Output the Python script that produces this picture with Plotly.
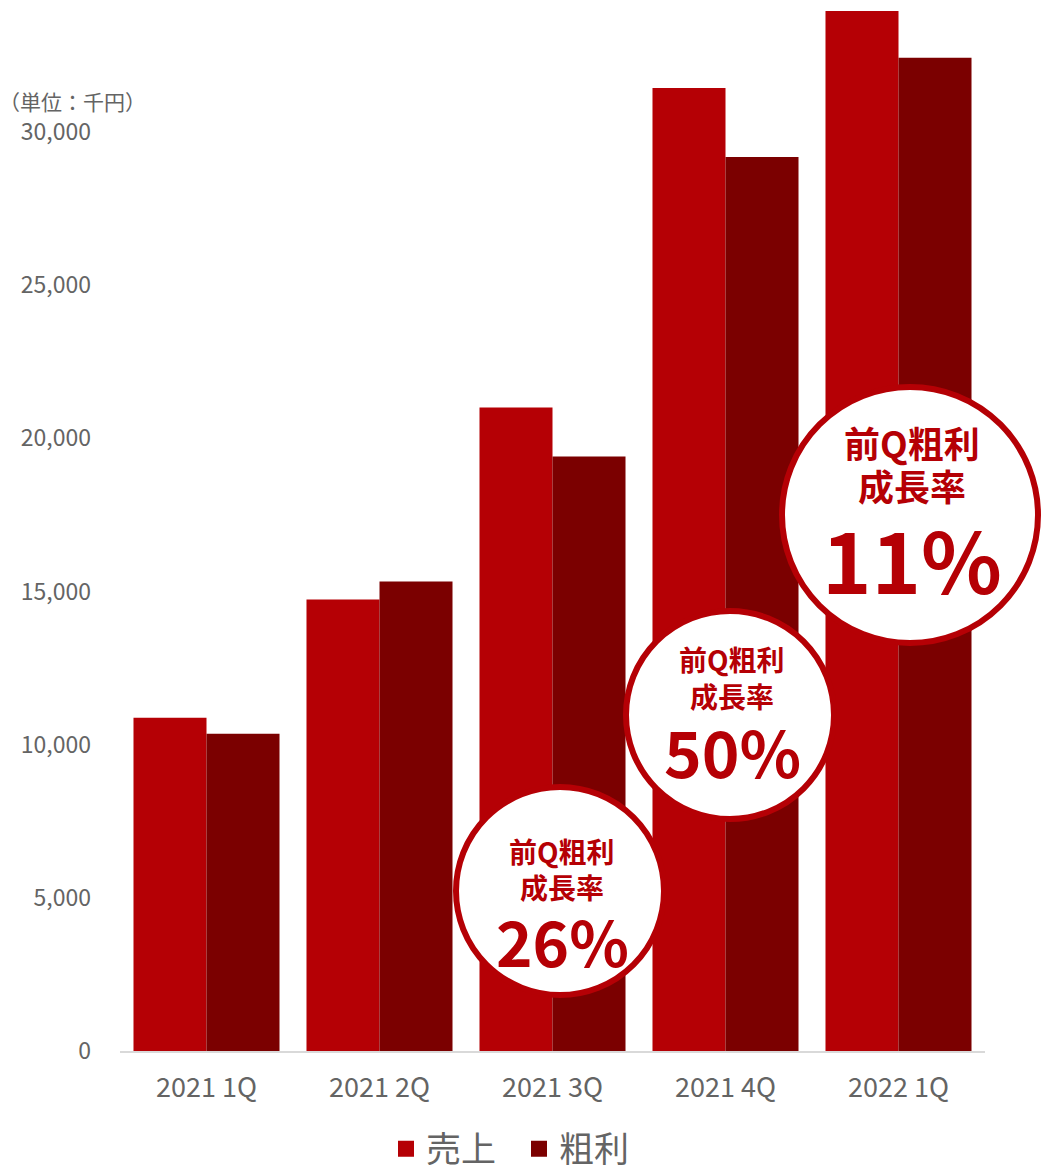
import plotly.graph_objects as go

# Quarterly figures (thousand yen)
quarters = ["2021 1Q", "2021 2Q", "2021 3Q", "2021 4Q", "2022 1Q"]
sales = [10880, 14740, 21010, 31440, 33950]
gross_profit = [10360, 15330, 19410, 29180, 32420]
y_ticks = [0, 5000, 10000, 15000, 20000, 25000, 30000]
series_names = ["売上", "粗利"]

SALES_COLOR = "#B50005"
GP_COLOR = "#7B0000"
TEXT_GRAY = "#646464"
FONT = "Noto Sans CJK JP"

W, H = 1041, 1166
M_L, M_R, M_T, M_B = 120, 56, 11, 115
PW, PH = W - M_L - M_R, H - M_T - M_B

fig = go.Figure()
for name, values, color in [(series_names[0], sales, SALES_COLOR),
                            (series_names[1], gross_profit, GP_COLOR)]:
    fig.add_trace(go.Bar(name=name, x=quarters, y=values, marker_color=color,
                         marker_line_width=0, showlegend=False))
    # legend-only entry with a larger square swatch
    fig.add_trace(go.Scatter(name=name, x=[None], y=[None], mode="markers",
                             marker=dict(symbol="square", size=19, color=color),
                             showlegend=True, hoverinfo="skip"))


def px_to_paper(px, py):
    return (px - M_L) / PW, (H - M_B - py) / PH


# Growth-rate badges: (label, centre x px, centre y px, radius px, head size, pct size, line offsets)
badges = [
    ("26%", 560, 891, 104, 28, 62, (-40, -4, 49)),
    ("50%", 730, 715, 104, 28, 64, (-56, -19, 35)),
    ("11%", 910, 515, 128, 36, 84, (-73, -30, 42)),
]

for pct, cx, cy, r, head_size, pct_size, offs in badges:
    x0, y0 = px_to_paper(cx - r, cy + r)
    x1, y1 = px_to_paper(cx + r, cy - r)
    fig.add_shape(type="circle", xref="paper", yref="paper",
                  x0=x0, y0=y0, x1=x1, y1=y1,
                  fillcolor="white", line=dict(color=SALES_COLOR, width=6),
                  layer="above")
    tx = cx + 2
    for text, dy, size in [("前Q粗利", offs[0], head_size),
                           ("成長率", offs[1], head_size),
                           (pct, offs[2], pct_size)]:
        ax, ay = px_to_paper(tx, cy + dy)
        fig.add_annotation(xref="paper", yref="paper", x=ax, y=ay,
                           text=f"<b>{text}</b>", showarrow=False,
                           xanchor="center", yanchor="middle",
                           font=dict(family=FONT, size=size, color=SALES_COLOR))

# Unit label above the y axis
ux, uy = px_to_paper(-3, 101)
fig.add_annotation(xref="paper", yref="paper", x=ux, y=uy, text="（単位：千円）",
                   showarrow=False, xanchor="left", yanchor="middle",
                   font=dict(family=FONT, size=21, color=TEXT_GRAY))

lx, _ = px_to_paper(386, 0)
fig.update_layout(
    width=W, height=H,
    margin=dict(l=M_L, r=M_R, t=M_T, b=M_B),
    paper_bgcolor="white", plot_bgcolor="white",
    barmode="group", bargap=0.156, bargroupgap=0,
    font=dict(family=FONT, color=TEXT_GRAY),
    showlegend=True,
    legend=dict(orientation="h", x=lx, xanchor="left",
                y=(H - 1149) / H, yanchor="middle", yref="container",
                font=dict(family=FONT, size=35, color=TEXT_GRAY),
                itemsizing="trace", tracegroupgap=0,
                entrywidth=88, entrywidthmode="pixels"),
    xaxis=dict(showgrid=False, showline=True, linecolor="#D9D9D9", linewidth=2,
               ticks="", tickfont=dict(size=27, color=TEXT_GRAY, family=FONT),
               ticklabelstandoff=12),
    yaxis=dict(range=[0, 33950], showgrid=False, zeroline=False, showline=False,
               tickvals=y_ticks, tickformat=",", ticks="",
               tickfont=dict(size=23, color=TEXT_GRAY, family=FONT),
               ticklabelstandoff=28),
)

fig.write_html("out.html")
